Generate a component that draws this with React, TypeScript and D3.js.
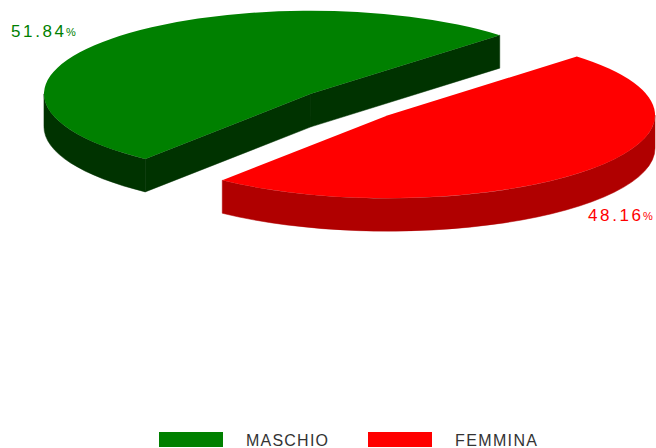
import React from "react";
import * as d3 from "d3";

const categories = ["MASCHIO", "FEMMINA"];
const values = [51.84, 48.16];
const labels = ["51.84", "48.16"];
const topColors = ["#008000", "#FF0000"];
const sideColors = ["#003300", "#B00000"];

const W = 656;
const H = 448;
const CX = 349.5;
const CY = 104.5;
const RX = 267;
const RY = 83;
const DEPTH = 33;
const EXPLODE = 51.6;
const SPLIT = Math.PI / 4; // d3 angle where first slice ends

export default function App() {
  const total = d3.sum(values);
  const start = SPLIT - (2 * Math.PI * values[0]) / total;
  const pie = d3
    .pie<number>()
    .sort(null)
    .value((d) => d)
    .startAngle(start)
    .endAngle(start + 2 * Math.PI);
  const arcs = pie(values);

  const slices = arcs.map((a, i) => {
    const t0 = a.startAngle - Math.PI / 2;
    const t1 = a.endAngle - Math.PI / 2;
    const tm = (t0 + t1) / 2;
    const cx = CX + EXPLODE * Math.cos(tm);
    const cy = CY + EXPLODE * Math.sin(tm) * (RY / RX);
    const p = (t: number, dz = 0): [number, number] => [
      cx + RX * Math.cos(t),
      cy + RY * Math.sin(t) + dz,
    ];
    const large = t1 - t0 > Math.PI ? 1 : 0;
    const P0 = p(t0);
    const P1 = p(t1);
    const top = `M${cx},${cy}L${P0[0]},${P0[1]}A${RX},${RY} 0 ${large} 1 ${P1[0]},${P1[1]}Z`;
    const sides: string[] = [];
    if (Math.cos(t0) < 0) {
      const B = p(t0, DEPTH);
      sides.push(
        `M${cx},${cy}L${P0[0]},${P0[1]}L${B[0]},${B[1]}L${cx},${cy + DEPTH}Z`
      );
    }
    if (Math.cos(t1) > 0) {
      const B = p(t1, DEPTH);
      sides.push(
        `M${cx},${cy}L${P1[0]},${P1[1]}L${B[0]},${B[1]}L${cx},${cy + DEPTH}Z`
      );
    }
    for (let k = -1; k <= 1; k++) {
      const lo = Math.max(t0, 2 * k * Math.PI);
      const hi = Math.min(t1, 2 * k * Math.PI + Math.PI);
      if (hi > lo) {
        const a0 = p(lo);
        const a1 = p(hi);
        const b1 = p(hi, DEPTH);
        const b0 = p(lo, DEPTH);
        sides.push(
          `M${a0[0]},${a0[1]}A${RX},${RY} 0 0 1 ${a1[0]},${a1[1]}L${b1[0]},${b1[1]}A${RX},${RY} 0 0 0 ${b0[0]},${b0[1]}Z`
        );
      }
    }
    return { i, top, sides, order: Math.sin(tm) };
  });
  const ordered = [...slices].sort((a, b) => a.order - b.order);

  const labelPos: [number, number][] = [
    [11, 37],
    [588, 221],
  ];
  const legendX = [159, 368];

  return (
    <svg
      width={W}
      height={H}
      style={{ position: "absolute", left: 0, top: 0, background: "#fff" }}
    >
      {ordered.map((s) => (
        <g key={s.i}>
          {s.sides.map((d, j) => (
            <path key={j} d={d} fill={sideColors[s.i]} stroke={sideColors[s.i]} strokeWidth={0.5} />
          ))}
          <path d={s.top} fill={topColors[s.i]} />
        </g>
      ))}
      {labels.map((l, i) => (
        <g key={l}>
          <text
            x={labelPos[i][0]}
            y={labelPos[i][1]}
            fill={topColors[i]}
            fontFamily="Liberation Sans, Arial, sans-serif"
            fontSize={17}
            textLength={53}
            lengthAdjust="spacing"
          >
            {l}
          </text>
          <text
            x={labelPos[i][0] + 55}
            y={labelPos[i][1] - 1}
            fill={topColors[i]}
            fontFamily="Liberation Sans, Arial, sans-serif"
            fontSize={11}
          >
            %
          </text>
        </g>
      ))}
      {categories.map((c, i) => (
        <g key={c}>
          <rect x={legendX[i]} y={432} width={64} height={15} fill={topColors[i]} />
          <text
            x={legendX[i] + 87}
            y={446}
            fill="#333"
            fontFamily="Liberation Sans, Arial, sans-serif"
            fontSize={16}
            textLength={82}
            lengthAdjust="spacing"
          >
            {c}
          </text>
        </g>
      ))}
    </svg>
  );
}
